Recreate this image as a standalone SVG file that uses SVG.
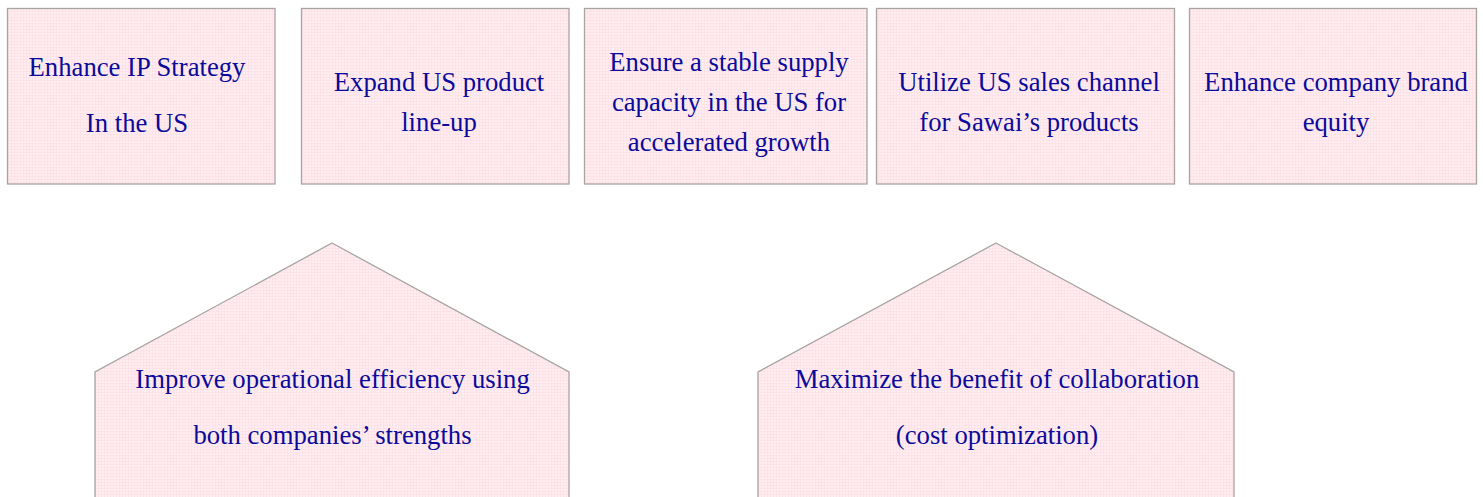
<svg xmlns="http://www.w3.org/2000/svg" width="1483" height="497" viewBox="0 0 1483 497">
  <defs>
    <!-- fine pink grid texture used as the shape fill -->
    <pattern id="pinkGrid" width="3" height="3" patternUnits="userSpaceOnUse">
      <rect width="3" height="3" fill="#fde3e7"/>
      <rect x="0" y="0" width="2" height="2" fill="#ffeef1"/>
    </pattern>
    <style>
      .box { fill: url(#pinkGrid); stroke: #a8a4a4; stroke-width: 1.3; }
      .label { font-family: "Liberation Serif", "Times New Roman", serif; font-size: 26.7px; fill: #0a0a9c; text-anchor: middle; }
    </style>
  </defs>
  <rect width="1483" height="497" fill="#ffffff"/>

  <!-- top row of goals -->
  <g id="ip-strategy">
    <rect class="box" x="7.5" y="8.5" width="267.5" height="175.5"/>
    <text class="label" x="137" y="76">Enhance IP Strategy</text>
    <text class="label" x="137" y="132">In the US</text>
  </g>
  <g id="product-lineup">
    <rect class="box" x="301.5" y="8.5" width="267.5" height="175.5"/>
    <text class="label" x="439" y="91">Expand US product</text>
    <text class="label" x="439" y="131">line-up</text>
  </g>
  <g id="supply-capacity">
    <rect class="box" x="584.5" y="8.5" width="282.5" height="175.5"/>
    <text class="label" x="729" y="71">Ensure a stable supply</text>
    <text class="label" x="729" y="111">capacity in the US for</text>
    <text class="label" x="729" y="151">accelerated growth</text>
  </g>
  <g id="sales-channel">
    <rect class="box" x="876.5" y="8.5" width="298" height="175.5"/>
    <text class="label" x="1029" y="91">Utilize US sales channel</text>
    <text class="label" x="1029" y="131">for Sawai’s products</text>
  </g>
  <g id="brand-equity">
    <rect class="box" x="1189.5" y="8.5" width="287" height="175.5"/>
    <text class="label" x="1336" y="91">Enhance company brand</text>
    <text class="label" x="1336" y="131">equity</text>
  </g>

  <!-- lower pentagon shapes -->
  <g id="operational-efficiency">
    <polygon class="box" points="332,243 569,372 569,520 95,520 95,372"/>
    <text class="label" x="332.5" y="388">Improve operational efficiency using</text>
    <text class="label" x="332.5" y="444">both companies’ strengths</text>
  </g>
  <g id="collaboration-benefit">
    <polygon class="box" points="996,243 1234,372 1234,520 758,520 758,372"/>
    <text class="label" x="997" y="388">Maximize the benefit of collaboration</text>
    <text class="label" x="997" y="444">(cost optimization)</text>
  </g>

  <g id="connectors"/>
</svg>
